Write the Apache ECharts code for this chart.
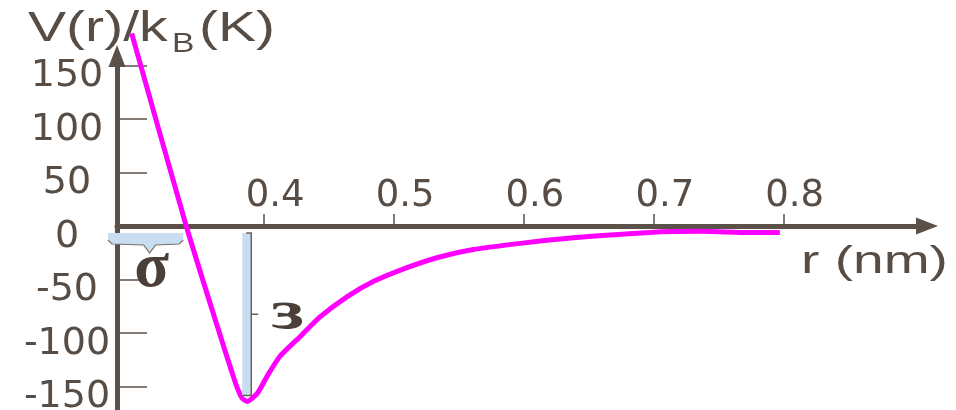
<!DOCTYPE html>
<html>
<head>
<meta charset="utf-8">
<script src="https://cdn.jsdelivr.net/npm/echarts@6/dist/echarts.min.js"></script>
<style>
  html, body { margin: 0; padding: 0; background: #ffffff; }
  #chart { width: 956px; height: 410px; }
</style>
</head>
<body>
<div id="chart"></div>
<script>
// Pair potential V(r)/kB sampled along the separation r (nm)
const rValues   = [0.298, 0.340, 0.364, 0.378, 0.383, 0.387, 0.395, 0.402, 0.412, 0.428, 0.443,
                   0.464, 0.484, 0.510, 0.535, 0.561, 0.599, 0.638, 0.697, 0.736, 0.774, 0.797];
const potential = [180, 0, -94, -147, -161, -164, -156, -141, -122, -103, -85,
                   -66, -52, -39, -29, -22, -16, -11, -6, -5, -6, -6];

const xTickValues = [0.4, 0.5, 0.6, 0.7, 0.8];
const yTickValues = [-150, -100, -50, 0, 50, 100, 150];

// Zero crossing (sigma) and well bottom (epsilon)
const sigmaR = 0.340;
const wellR = 0.387;
const wellDepth = -164;

const X_MIN = 0.2867, X_MAX = 0.9103;
const Y_MIN = -172, Y_MAX = 158.9;

const INK = '#574d45';
const AXIS = '#5b5149';
const PALE_BLUE = '#c8ddf1';

const GRID = { left: 117, right: 29, top: 56, bottom: 0, outerBoundsMode: 'none', containLabel: false };
const gridHeight = 410 - GRID.top - GRID.bottom;
// lift the r axis from the grid bottom up to V = 0
const xAxisOffset = -((0 - Y_MIN) / (Y_MAX - Y_MIN)) * gridHeight;

const chart = echarts.init(document.getElementById('chart'), null, { renderer: 'canvas' });

const option = {
  animation: false,
  backgroundColor: '#ffffff',
  grid: GRID,
  xAxis: {
    type: 'value',
    min: X_MIN,
    max: X_MAX,
    position: 'bottom',
    offset: xAxisOffset,
    axisLine: {
      onZero: false,
      symbol: ['none', 'triangle'],
      symbolSize: [17, 22],
      lineStyle: { color: AXIS, width: 5 }
    },
    axisTick: {
      show: true,
      inside: true,
      length: 12,
      customValues: xTickValues,
      lineStyle: { color: AXIS, width: 1.5 }
    },
    axisLabel: {
      inside: true,
      margin: 11,
      customValues: xTickValues,
      fontFamily: 'DejaVu Sans',
      fontSize: 37,
      color: INK,
      align: 'center',
      padding: [0, 0, 0, 22],
      formatter: v => v.toFixed(1)
    },
    splitLine: { show: false }
  },
  yAxis: {
    type: 'value',
    min: Y_MIN,
    max: Y_MAX,
    axisLine: {
      onZero: false,
      symbol: ['none', 'triangle'],
      symbolSize: [17, 22],
      lineStyle: { color: AXIS, width: 5 }
    },
    axisTick: {
      show: true,
      inside: true,
      length: 30,
      customValues: yTickValues,
      lineStyle: { color: AXIS, width: 1.5 }
    },
    axisLabel: {
      margin: 50,
      customValues: yTickValues,
      fontFamily: 'DejaVu Sans',
      fontSize: 38,
      color: INK,
      align: 'center',
      verticalAlign: 'top',
      lineHeight: 22
    },
    splitLine: { show: false }
  },
  series: [{
    type: 'line',
    data: rValues.map((r, i) => [r, potential[i]]),
    symbol: 'none',
    smooth: 0.2,
    clip: false,
    lineStyle: { color: '#ff00ff', width: 5 }
  }]
};

chart.setOption(option);

// Annotations placed from data coordinates
const [axisX, zeroY] = chart.convertToPixel({ gridIndex: 0 }, [X_MIN, 0]);
const [sigmaX] = chart.convertToPixel({ gridIndex: 0 }, [sigmaR, 0]);
const [wellX, wellY] = chart.convertToPixel({ gridIndex: 0 }, [wellR, wellDepth]);

const bx0 = axisX - 9, bx1 = sigmaX - 3, bTop = zeroY + 7;
const bMid = (bx0 + bx1) / 2 + 4;
const barLeft = wellX - 5, barRight = wellX + 4;
const barTop = zeroY + 7, barBottom = wellY - 6, barMid = (barTop + barBottom) / 2;

chart.setOption({
  graphic: [
    // axis titles
    { type: 'text', x: 28, y: 8, scaleX: 1.36,
      style: { text: 'V(r)/k', fontFamily: 'Liberation Sans', fontSize: 42, fill: INK } },
    { type: 'text', x: 172, y: 30, scaleX: 1.2,
      style: { text: 'B', fontFamily: 'Liberation Sans', fontSize: 28, fill: INK } },
    { type: 'text', x: 199, y: 8, scaleX: 1.36,
      style: { text: '(K)', fontFamily: 'Liberation Sans', fontSize: 42, fill: INK } },
    { type: 'text', x: 801, y: 244, scaleX: 1.45,
      style: { text: 'r (nm)', fontFamily: 'Liberation Sans', fontSize: 38, fill: INK } },

    // sigma brace
    { type: 'polygon', z: 10,
      shape: { points: [[bx0, bTop], [bx1, bTop], [bx1, bTop + 6], [bx1 - 4, bTop + 11], [bMid + 6, bTop + 12],
                        [bMid, bTop + 20], [bMid - 6, bTop + 12], [bx0 + 4, bTop + 11], [bx0, bTop + 6]] },
      style: { fill: PALE_BLUE, stroke: null } },
    { type: 'polyline', z: 11,
      shape: { points: [[bx1, bTop + 7], [bx1 - 4, bTop + 11], [bMid + 6, bTop + 12], [bMid, bTop + 20],
                        [bMid - 6, bTop + 12], [bx0 + 4, bTop + 11], [bx0, bTop + 7]] },
      style: { stroke: '#7a7068', lineWidth: 1.2, fill: null } },
    { type: 'text', z: 11, x: bMid + 2, y: bTop + 36,
      style: { text: 'σ', fontFamily: 'Liberation Serif', fontWeight: 'bold', fontSize: 64,
               fill: '#4a4039', align: 'center', verticalAlign: 'middle' } },

    // epsilon bar
    { type: 'rect', z: 10,
      shape: { x: barLeft, y: barTop, width: barRight - barLeft, height: barBottom - barTop },
      style: { fill: PALE_BLUE } },
    { type: 'polyline', z: 11,
      shape: { points: [[barLeft + 4, barTop], [barRight, barTop], [barRight, barBottom], [barLeft, barBottom]] },
      style: { stroke: '#6b6159', lineWidth: 1.5, fill: null } },
    { type: 'line', z: 11,
      shape: { x1: barRight, y1: barMid, x2: barRight + 7, y2: barMid },
      style: { stroke: '#6b6159', lineWidth: 1.5 } },
    // epsilon glyph, drawn mirrored
    { type: 'text', z: 11, x: barRight + 53, y: barMid, scaleX: -1.45,
      style: { text: 'ε', fontFamily: 'Liberation Serif', fontWeight: 'bold', fontSize: 54,
               fill: '#4a4039', align: 'left', verticalAlign: 'middle' } }
  ]
});
</script>
</body>
</html>
